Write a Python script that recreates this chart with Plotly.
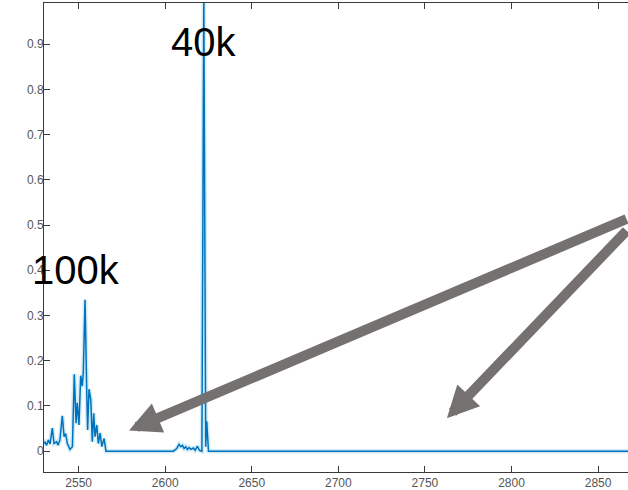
import plotly.graph_objects as go

# Spectrum samples: wavenumber and normalised intensity
wavenumber = [2530.0, 2530.6, 2531.5, 2532.5, 2533.5, 2534.8, 2535.8, 2537.3, 2538.1, 2539.2,
              2540.6, 2541.6, 2542.5, 2543.5, 2545.0, 2546.4, 2547.5, 2548.5, 2549.2, 2550.2,
              2551.2, 2552.1, 2552.7, 2553.7, 2554.7, 2555.2, 2556.0, 2557.0, 2557.9, 2558.7,
              2559.5, 2560.5, 2561.4, 2562.4, 2563.4, 2564.7, 2565.8, 2604.7, 2606.7, 2608.0,
              2609.0, 2610.0, 2610.9, 2611.9, 2612.8, 2613.8, 2614.8, 2616.3, 2617.3, 2618.6,
              2619.8, 2621.2, 2622.3, 2623.4, 2624.0, 2625.0, 2900.0]
intensity = [0.017, 0.020, 0.013, 0.025, 0.016, 0.051, 0.017, 0.021, 0.013, 0.025,
             0.078, 0.032, 0.039, 0.017, 0.004, 0.010, 0.170, 0.062, 0.107, 0.058,
             0.167, 0.144, 0.174, 0.335, 0.129, 0.047, 0.137, 0.114, 0.021, 0.084,
             0.032, 0.058, 0.017, 0.040, 0.010, 0.028, 0.0, 0.0, 0.006, 0.015,
             0.010, 0.013, 0.006, 0.010, 0.004, 0.008, 0.004, 0.007, 0.002, 0.011,
             0.002, 0.0, 1.0, 0.010, 0.066, 0.0, 0.0]

# Peak labels
label_text = ["40k", "100k"]
label_x = [2622.3, 2548.2]
label_y = [0.905, 0.40]

# Arrow tips (data coordinates) and tail offsets (pixels)
arrow_tip_x = [2579.1, 2762.7]
arrow_tip_y = [0.046, 0.073]
arrow_ax = [502, 184]
arrow_ay = [-212, -189]

x_ticks = [2550, 2600, 2650, 2700, 2750, 2800, 2850]
y_ticks = [0, 0.1, 0.2, 0.3, 0.4, 0.5, 0.6, 0.7, 0.8, 0.9]
y_tick_text = ["0", "0.1", "0.2", "0.3", "0.4", "0.5", "0.6", "0.7", "0.8", "0.9"]

line_blue = "#0072BD"
arrow_grey = "#767171"
axis_col = "#3a3a3a"

fig = go.Figure()
# soft halo under the trace
fig.add_trace(go.Scatter(x=wavenumber, y=intensity, mode="lines",
                         line=dict(color="rgba(0,150,210,0.18)", width=4.5),
                         hoverinfo="skip", showlegend=False))
fig.add_trace(go.Scatter(x=wavenumber, y=intensity, mode="lines",
                         line=dict(color=line_blue, width=1.5),
                         showlegend=False))

annotations = []
for t, x, y in zip(label_text, label_x, label_y):
    annotations.append(dict(x=x, y=y, xref="x", yref="y", text=t, showarrow=False,
                            xanchor="center", yanchor="middle",
                            font=dict(family="Liberation Sans", size=40, color="#000000")))
for x, y, ax, ay in zip(arrow_tip_x, arrow_tip_y, arrow_ax, arrow_ay):
    annotations.append(dict(x=x, y=y, xref="x", yref="y", text="", showarrow=True,
                            ax=ax, ay=ay, axref="pixel", ayref="pixel",
                            arrowhead=2, arrowsize=0.63, arrowwidth=10,
                            arrowcolor=arrow_grey, standoff=0))

fig.update_layout(
    width=628, height=490,
    margin=dict(l=44, r=0, t=3, b=18),
    paper_bgcolor="white", plot_bgcolor="white",
    annotations=annotations,
    showlegend=False,
)
fig.update_xaxes(range=[2530, 2867.3], tickvals=x_ticks, ticks="inside", ticklen=6,
                 tickcolor=axis_col, showline=True, linecolor=axis_col, linewidth=1,
                 mirror="ticks", showgrid=False, zeroline=False, automargin=False,
                 tickfont=dict(family="Liberation Sans", size=12, color="#555555"))
fig.update_yaxes(range=[-0.046, 0.991], tickvals=y_ticks, ticktext=y_tick_text,
                 ticks="inside", ticklen=6, tickcolor=axis_col, showline=True,
                 linecolor=axis_col, linewidth=1, mirror=False, showgrid=False,
                 zeroline=False, automargin=False, ticklabelstandoff=-3,
                 tickfont=dict(family="Liberation Sans", size=12, color="#555555"))

fig.write_html("out.html")
